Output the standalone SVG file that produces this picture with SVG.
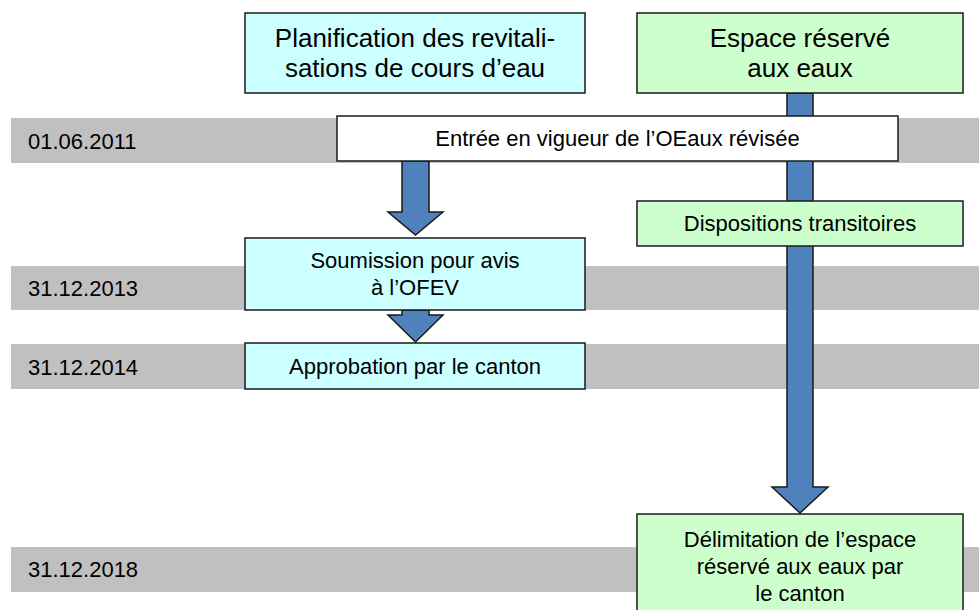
<svg xmlns="http://www.w3.org/2000/svg" width="979" height="610" viewBox="0 0 979 610">
<style>
  .band { fill: #C0C0C0; }
  .date { font-family: "Liberation Sans", Arial, sans-serif; font-size: 22px; fill: #000; }
  .box { stroke: #1a1a1a; stroke-width: 1.5; }
  .blue { fill: #CCFFFF; }
  .green { fill: #CCFFCC; }
  .white { fill: #FFFFFF; }
  .t { font-family: "Liberation Sans", Arial, sans-serif; font-size: 22px; fill: #000; text-anchor: middle; }
  .h { font-family: "Liberation Sans", Arial, sans-serif; font-size: 26px; fill: #000; text-anchor: middle; }
  .arrow { fill: #4F81BD; stroke: #1a1a1a; stroke-width: 1.5; stroke-linejoin: miter; }
</style>

<g id="timeline">
  <rect class="band" x="11" y="118" width="968" height="45"/>
  <text class="date" x="28" y="149">01.06.2011</text>
  <rect class="band" x="11" y="266" width="968" height="44"/>
  <text class="date" x="28" y="296">31.12.2013</text>
  <rect class="band" x="11" y="344" width="968" height="45"/>
  <text class="date" x="28" y="375">31.12.2014</text>
  <rect class="band" x="11" y="547" width="968" height="45"/>
  <text class="date" x="28" y="577">31.12.2018</text>
</g>

<g id="connectors">
  <path class="arrow" d="M787,93 L813,93 L813,487 L828,487 L800,513 L772,487 L787,487 Z"/>
  <path class="arrow" d="M402,161 L429,161 L429,212 L443,212 L415.5,235 L388,212 L402,212 Z"/>
  <path class="arrow" d="M402,310 L429,310 L429,315 L443,315 L415.5,342 L388,315 L402,315 Z"/>
</g>

<g id="planification">
  <rect class="box blue" x="245" y="13" width="340" height="80"/>
  <text class="h" x="415" y="47">Planification des revitali-</text>
  <text class="h" x="415" y="77">sations de cours d’eau</text>
</g>

<g id="espace">
  <rect class="box green" x="637" y="13" width="326" height="80"/>
  <text class="h" x="800" y="47">Espace réservé</text>
  <text class="h" x="800" y="77">aux eaux</text>
</g>

<g id="entree">
  <rect class="box white" x="337" y="116" width="561" height="45"/>
  <text class="t" x="617.5" y="146">Entrée en vigueur de l’OEaux révisée</text>
</g>

<g id="dispositions">
  <rect class="box green" x="637" y="201" width="326" height="45"/>
  <text class="t" x="800" y="231">Dispositions transitoires</text>
</g>

<g id="soumission">
  <rect class="box blue" x="245" y="238" width="340" height="72"/>
  <text class="t" x="415" y="268">Soumission pour avis</text>
  <text class="t" x="415" y="295">à l’OFEV</text>
</g>

<g id="approbation">
  <rect class="box blue" x="245" y="343" width="340" height="46"/>
  <text class="t" x="415" y="374">Approbation par le canton</text>
</g>

<g id="delimitation">
  <rect class="box green" x="637" y="514" width="326" height="110"/>
  <text class="t" x="800" y="547">Délimitation de l’espace</text>
  <text class="t" x="800" y="574">réservé aux eaux par</text>
  <text class="t" x="800" y="601">le canton</text>
</g>
</svg>
